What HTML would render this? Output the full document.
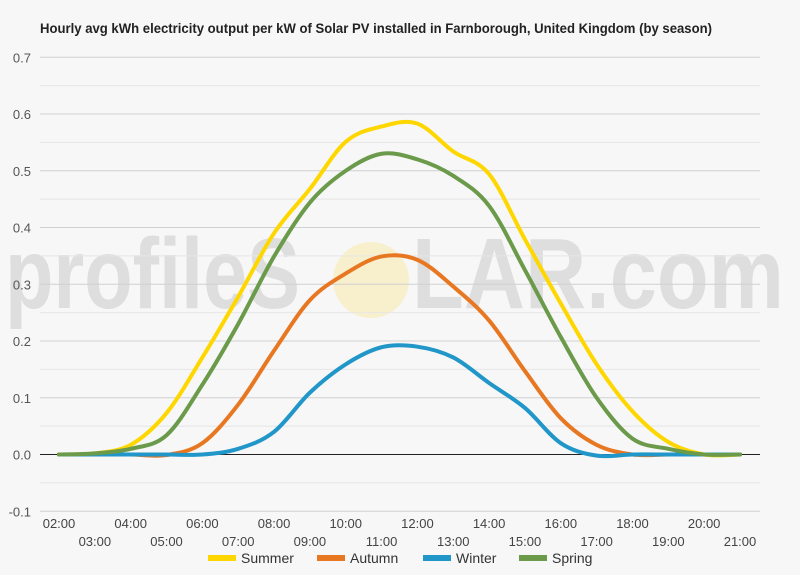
<!DOCTYPE html>
<html><head><meta charset="utf-8"><style>
body{margin:0;background:#f7f7f7;}
svg text{font-family:"Liberation Sans",sans-serif;}
</style></head><body>
<svg width="800" height="570" xmlns="http://www.w3.org/2000/svg">
<rect width="800" height="570" fill="#f7f7f7"/>
<text x="40" y="33" font-size="13.5" font-weight="bold" fill="#222" textLength="672" lengthAdjust="spacingAndGlyphs">Hourly avg kWh electricity output per kW of Solar PV installed in Farnborough, United Kingdom (by season)</text>
<g id="watermark">
<text x="5" y="308" font-size="100" font-weight="bold" fill="#dedede" textLength="295" lengthAdjust="spacingAndGlyphs">profileS</text>
<ellipse cx="371" cy="280" rx="38" ry="38" fill="#f7edc0" opacity="0.8"/>
<text x="412" y="308" font-size="100" font-weight="bold" fill="#dedede" textLength="372" lengthAdjust="spacingAndGlyphs">LAR.com</text>
</g>
<g id="grid"></g>
<g id="series"></g>
<g id="xlabels"></g>
<g id="legend"></g>
</svg>
<script>
const hours=["02:00","03:00","04:00","05:00","06:00","07:00","08:00","09:00","10:00","11:00","12:00","13:00","14:00","15:00","16:00","17:00","18:00","19:00","20:00","21:00"];
const yTicks=[-0.1,0,0.1,0.2,0.3,0.4,0.5,0.6,0.7];
const summer=[0,0.002,0.017,0.073,0.171,0.278,0.39,0.468,0.551,0.578,0.583,0.534,0.494,0.379,0.266,0.159,0.076,0.022,0,0];
const autumn=[0,0,0,-0.001,0.02,0.088,0.183,0.272,0.319,0.349,0.343,0.296,0.236,0.147,0.064,0.017,0,0,0,0];
const winter=[0,0,0,0,0,0.01,0.04,0.109,0.159,0.189,0.19,0.171,0.126,0.082,0.02,-0.002,0,0,0,0];
const spring=[0,0.002,0.01,0.034,0.123,0.23,0.349,0.444,0.5,0.53,0.52,0.491,0.438,0.325,0.207,0.1,0.028,0.01,0,0];
const seriesNames=["Summer","Autumn","Winter","Spring"];
const seriesData=[summer,autumn,winter,spring];
const colors=["#ffd700","#e87722","#2196c8","#6a9a4a"];
const NS="http://www.w3.org/2000/svg";
const X0=59,X1=740,Y0=454.5,PX=567.5;
const xs=i=>X0+i*(X1-X0)/(hours.length-1);
const ys=v=>Y0-v*PX;
function mk(tag,attrs,parent){const e=document.createElementNS(NS,tag);for(const k in attrs)e.setAttribute(k,attrs[k]);parent.appendChild(e);return e;}
const grid=document.getElementById('grid');
for(let v=-0.1;v<0.701;v+=0.05){
  const r=Math.round(v*100)/100;
  const major=Math.abs(Math.round(r*10)-r*10)<1e-6;
  const l=mk('line',{x1:40,x2:760,y1:ys(r),y2:ys(r),stroke:r===0?'#222':(major?'#d0d0d0':'#e6e6e6'),'stroke-width':1},grid);
  
  
}
yTicks.forEach(t=>{
  const e=mk('text',{x:31,y:ys(t)+5,'text-anchor':'end','font-size':13,fill:'#555'},grid);
  e.textContent=t.toFixed(1);
  
  
});
const xl=document.getElementById('xlabels');
hours.forEach((h,i)=>{
  const e=mk('text',{x:xs(i),y:i%2===0?528:546,'text-anchor':'middle','font-size':13,fill:'#444'},xl);
  e.textContent=h;
  
  
});
function pathFor(d){
  const p=d.map((v,i)=>[xs(i),ys(v)]);
  let s='M'+p[0][0]+','+p[0][1];
  for(let i=0;i<p.length-1;i++){
    const a=p[Math.max(0,i-1)],b=p[i],c=p[i+1],e=p[Math.min(p.length-1,i+2)];
    const c1=[b[0]+(c[0]-a[0])/6,b[1]+(c[1]-a[1])/6];
    const c2=[c[0]-(e[0]-b[0])/6,c[1]-(e[1]-b[1])/6];
    s+=' C'+c1+' '+c2+' '+c;
  }
  return s;
}
const sg=document.getElementById('series');
seriesData.forEach((d,k)=>{
  const p=mk('path',{d:pathFor(d),fill:'none',stroke:colors[k],'stroke-width':4,'stroke-linejoin':'round','stroke-linecap':'round'},sg);
  
  
});
const lg=document.getElementById('legend');
const lx=[208,317,423,519];
seriesNames.forEach((n,k)=>{
  const g=mk('g',{},lg);
  
  
  mk('rect',{x:lx[k],y:555,width:28,height:6,fill:colors[k]},g);
  const t=mk('text',{x:lx[k]+33,y:563,'font-size':14,fill:'#333'},g);
  t.textContent=n;
});
</script>
</body></html>
